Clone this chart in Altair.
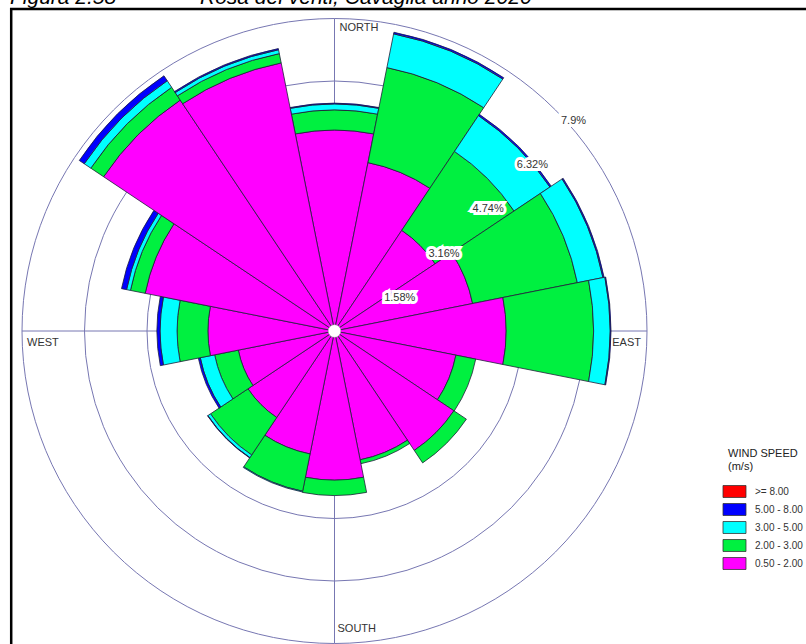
import math
import altair as alt
import pandas as pd

# ---------------- data ----------------
directions = ["N", "NNE", "NE", "ENE", "E", "ESE", "SE", "SSE",
              "S", "SSW", "SW", "WSW", "W", "WNW", "NW", "NNW"]
direction_deg = [0.0, 22.5, 45.0, 67.5, 90.0, 112.5, 135.0, 157.5,
                 180.0, 202.5, 225.0, 247.5, 270.0, 292.5, 315.0, 337.5]

# frequency (%) of each speed class per direction
pct_050_200 = [5.08, 4.34, 3.06, 3.56, 4.34, 3.13, 3.63, 3.32,
               3.77, 3.17, 2.63, 2.48, 3.20, 4.88, 7.02, 6.91]
pct_200_300 = [0.51, 2.45, 2.40, 2.70, 2.21, 0.51, 0.38, 0.10,
               0.39, 0.96, 1.14, 0.61, 0.78, 0.38, 0.39, 0.24]
pct_300_500 = [0.15, 0.87, 1.09, 0.66, 0.42, 0.00, 0.00, 0.00,
               0.00, 0.02, 0.08, 0.37, 0.43, 0.10, 0.20, 0.10]
pct_500_800 = [0.02, 0.04, 0.04, 0.03, 0.02, 0.00, 0.00, 0.00,
               0.00, 0.00, 0.01, 0.05, 0.08, 0.13, 0.15, 0.03]
pct_ge_800 = [0.00, 0.00, 0.00, 0.00, 0.00, 0.00, 0.00, 0.00,
              0.00, 0.00, 0.00, 0.00, 0.00, 0.00, 0.00, 0.00]

speed_classes = [">= 8.00", "5.00 - 8.00", "3.00 - 5.00", "2.00 - 3.00", "0.50 - 2.00"]
class_colors = ["#ff0000", "#0000ff", "#00ffff", "#00f040", "#ff00ff"]

ring_values = [1.58, 3.16, 4.74, 6.32, 7.9]
ring_labels = ["1.58%", "3.16%", "4.74%", "6.32%", "7.9%"]

cardinal_labels = ["NORTH", "EAST", "SOUTH", "WEST"]
cardinal_deg = [0.0, 90.0, 180.0, 270.0]

calm_radius = 0.16

title_left = "Figura 2.58"
title_right = "Rosa dei venti, Cavaglià anno 2020"

# ---------------- layout ----------------
W, H = 806, 644
CX, CY = 334.5, 331.0        # pixel centre of the rose
RING_PX = 312.5              # pixel radius of outermost ring
R_MAX = ring_values[-1]
K = RING_PX / R_MAX

xscale = alt.Scale(domain=[-CX / K, (W - CX) / K], nice=False, zero=False)
yscale = alt.Scale(domain=[-(H - CY) / K, CY / K], nice=False, zero=False)
rscale = alt.Scale(type="linear", domain=[0, R_MAX], range=[0, RING_PX], zero=True, nice=False)

FONT = "Liberation Sans"
GRID = "#7777b2"
TXT = "#333333"

# ---------------- tables ----------------
rows = []
order_bottom_up = [("0.50 - 2.00", pct_050_200), ("2.00 - 3.00", pct_200_300),
                   ("3.00 - 5.00", pct_300_500), ("5.00 - 8.00", pct_500_800),
                   (">= 8.00", pct_ge_800)]
for i, d in enumerate(directions):
    c = 0.0
    for cls, arr in order_bottom_up:
        v = arr[i]
        if v > 0:
            rows.append({
                "dir": d, "speed": cls, "pct": v,
                "r0": c, "r1": c + v,
                "t0": math.radians(direction_deg[i] - 11.25),
                "t1": math.radians(direction_deg[i] + 11.25),
            })
        c += v
bars_df = pd.DataFrame(rows)

rings_df = pd.DataFrame({"r": ring_values, "label": ring_labels,
                         "t0": [0.0] * len(ring_values),
                         "t1": [2 * math.pi] * len(ring_values),
                         "ang": [math.pi / 4] * len(ring_values)})

cross_df = pd.DataFrame({"x0": [-R_MAX, 0.0], "x1": [R_MAX, 0.0],
                         "y0": [0.0, -R_MAX], "y1": [0.0, R_MAX]})

card_df = pd.DataFrame({"label": cardinal_labels,
                        "ang": [math.radians(a) for a in cardinal_deg],
                        "r": [R_MAX] * 4})

calm_df = pd.DataFrame({"r": [calm_radius], "t0": [0.0], "t1": [2 * math.pi]})

cx_enc = alt.X(datum=0, type="quantitative", scale=xscale, axis=None)
cy_enc = alt.Y(datum=0, type="quantitative", scale=yscale, axis=None)

# ---------------- layers ----------------
rings = alt.Chart(rings_df).mark_arc(filled=False, stroke=GRID, strokeWidth=1).encode(
    x=cx_enc, y=cy_enc,
    theta=alt.Theta("t0:Q", scale=None), theta2="t1:Q",
    radius=alt.Radius("r:Q", scale=rscale),
)

cross = alt.Chart(cross_df).mark_rule(color=GRID, strokeWidth=1).encode(
    x=alt.X("x0:Q", scale=xscale, axis=None), x2="x1:Q",
    y=alt.Y("y0:Q", scale=yscale, axis=None), y2="y1:Q",
)

bars = alt.Chart(bars_df).mark_arc(stroke="#20203a", strokeWidth=0.8).encode(
    x=cx_enc, y=cy_enc,
    theta=alt.Theta("t0:Q", scale=None), theta2="t1:Q",
    radius=alt.Radius("r1:Q", scale=rscale), radius2="r0:Q",
    color=alt.Color("speed:N",
                    scale=alt.Scale(domain=speed_classes, range=class_colors),
                    legend=alt.Legend(
                        title=["WIND SPEED", "(m/s)"],
                        orient="none", legendX=728, legendY=448,
                        symbolType="M-2,-1.04H2V1.04H-2Z", symbolSize=132,
                        symbolStrokeColor="#333333", symbolStrokeWidth=0.8,
                        symbolOpacity=1,
                        labelFont=FONT, labelFontSize=10, labelColor=TXT, labelOffset=14,
                        titleFont=FONT, titleFontSize=11, titleFontWeight="normal",
                        titleColor="#222222", titleLineHeight=13, titlePadding=13,
                        rowPadding=1, padding=0,
                    )),
)

calm = alt.Chart(calm_df).mark_arc(color="white", stroke="#999999", strokeWidth=0.5).encode(
    x=cx_enc, y=cy_enc,
    theta=alt.Theta("t0:Q", scale=None), theta2="t1:Q",
    radius=alt.Radius("r:Q", scale=rscale),
)

ring_text_base = alt.Chart(rings_df).encode(
    x=cx_enc, y=cy_enc,
    theta=alt.Theta("ang:Q", scale=None),
    radius=alt.Radius("r:Q", scale=rscale),
    text="label:N",
)
ring_halo = ring_text_base.mark_text(align="left", baseline="top", dx=5.5, dy=5,
                                     font=FONT, fontSize=11, stroke="white",
                                     strokeWidth=6, strokeJoin="miter", fill="white")
ring_text = ring_text_base.mark_text(align="left", baseline="top", dx=5.5, dy=5,
                                     font=FONT, fontSize=11, color=TXT)


def card_layer(label, align, baseline, dx, dy):
    return alt.Chart(card_df).transform_filter(
        alt.datum.label == label
    ).mark_text(align=align, baseline=baseline, dx=dx, dy=dy,
                font=FONT, fontSize=11, color=TXT).encode(
        x=cx_enc, y=cy_enc,
        theta=alt.Theta("ang:Q", scale=None),
        radius=alt.Radius("r:Q", scale=rscale),
        text="label:N",
    )


north = card_layer("NORTH", "left", "top", 5, 3)
east = card_layer("EAST", "right", "top", -6, 6)
south = card_layer("SOUTH", "left", "bottom", 3, -10)
west = card_layer("WEST", "left", "top", 5, 6)

title_df = pd.DataFrame({"t": [title_left, title_right], "slot": ["a", "b"]})
title_a = alt.Chart(title_df).transform_filter(alt.datum.slot == "a").mark_text(
    align="left", baseline="alphabetic", font=FONT, fontSize=21, fontStyle="italic", color="black"
).encode(x=alt.value(10), y=alt.value(3.5), text="t:N")
title_b = alt.Chart(title_df).transform_filter(alt.datum.slot == "b").mark_text(
    align="left", baseline="alphabetic", font=FONT, fontSize=21, fontStyle="italic", color="black"
).encode(x=alt.value(200), y=alt.value(3.5), text="t:N")

frame_top = alt.Chart(title_df).transform_filter(alt.datum.slot == "a").mark_rule(
    color="black", strokeWidth=2.5
).encode(x=alt.value(10), x2=alt.value(806), y=alt.value(9))
frame_left = alt.Chart(title_df).transform_filter(alt.datum.slot == "a").mark_rule(
    color="black", strokeWidth=2.5
).encode(x=alt.value(11.2), y=alt.value(8), y2=alt.value(644))

chart = alt.layer(
    rings, cross, bars, calm, ring_halo, ring_text,
    north, east, south, west, title_a, title_b, frame_top, frame_left,
).properties(
    width=W, height=H,
    autosize=alt.AutoSizeParams(type="none"),
    padding=0,
    background="white",
).configure_view(stroke=None)

chart.save("out.html", embed_options={"renderer": "svg", "actions": False})
